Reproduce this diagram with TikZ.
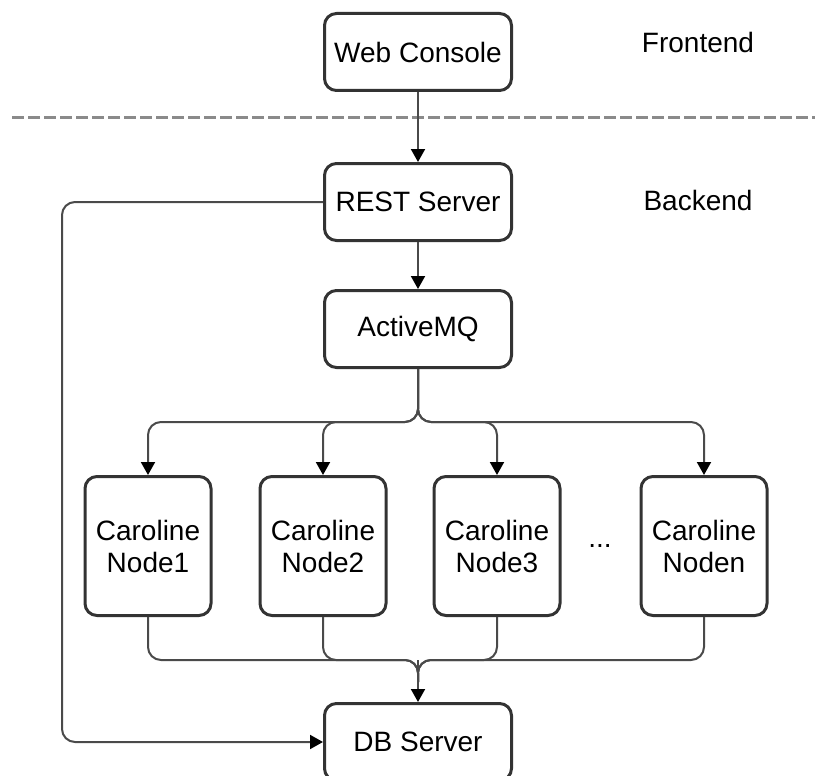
\documentclass[tikz,border=0pt]{standalone}
\usepackage{fontspec}
\setmainfont{Liberation Sans}
\usetikzlibrary{arrows.meta}
\definecolor{boxc}{HTML}{333333}
\definecolor{linec}{HTML}{4A4A4A}
\definecolor{dashc}{HTML}{8A8A8A}
\tikzset{
  box/.style={draw=boxc, line width=3pt, rounded corners=12pt, minimum width=187pt,
    minimum height=77pt, inner sep=0pt, align=center,
    font=\fontsize{28}{32}\selectfont},
  cnode/.style={box, minimum width=126pt, minimum height=139pt},
  lbl/.style={font=\fontsize{28}{32}\selectfont, inner sep=0pt},
  conn/.style={draw=linec, line width=2pt, rounded corners=13pt,
    -{Triangle[width=14pt,length=13pt,fill=black,color=black]}},
  plain/.style={draw=linec, line width=2pt, rounded corners=13pt}
}
\begin{document}
\begin{tikzpicture}[x=1pt,y=-1pt]
\useasboundingbox (0,0) rectangle (815,776);
\clip (0,0) rectangle (815,776);
% section labels and divider
\node[lbl] (fe) at (698,42) {Frontend};
\node[lbl] (be) at (698,200) {Backend};
\coordinate (dl) at (12,118);
\coordinate (dr) at (815,118);
\draw[dashc, line width=3pt, dash pattern=on 12pt off 4pt] (dl) -- (dr);
% nodes
\node[box] (web) at (418,52) {Web Console};
\node[box] (rest) at (418,202) {REST Server};
\node[box] (amq) at (418,329) {ActiveMQ};
\node[cnode] (c1) at (148,546) {Caroline\\Node1};
\node[cnode] (c2) at (323,546) {Caroline\\Node2};
\node[cnode] (c3) at (497,546) {Caroline\\Node3};
\node[cnode] (cn) at (704,546) {Caroline\\Noden};
\node[lbl] (dots) at (600,546) {...};
\node[box] (db) at (418,742) {DB Server};
% connectors
\draw[conn] (web) -- (rest);
\draw[conn] (rest) -- (amq);
\coordinate (split) at (418,422);
\foreach \n in {c1,c2,c3,cn}{
  \draw[conn] (amq.south) -- (split) -- (split -| \n.north) -- (\n.north);
}
\coordinate (merge) at (418,660);
\coordinate (mdown) at (418,682);
\foreach \n in {c1,c2,c3,cn}{
  \draw[plain] (\n.south) -- (\n.south |- merge) -- (merge) -- (mdown);
}
\draw[conn] (merge) -- (db.north);
\coordinate (lc) at (62,202);
\draw[conn] (rest.west) -- (lc) -- (lc |- db.west) -- (db.west);
\end{tikzpicture}
\end{document}
